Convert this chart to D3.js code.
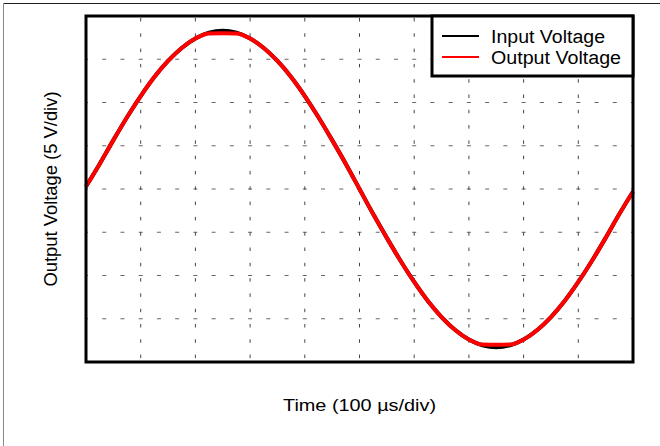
<!DOCTYPE html>
<html>
<head>
<meta charset="utf-8">
<script src="https://cdn.jsdelivr.net/npm/d3@7"></script>
<style>
  html, body { margin: 0; padding: 0; background: #fff; }
  svg { display: block; }
  text { font-family: "Liberation Sans", Arial, Helvetica, sans-serif; fill: #000; }
</style>
</head>
<body>
<svg id="chart" width="660" height="446"></svg>
<script>
// ---- data (time in µs, voltage in V; 100 µs/div, 5 V/div) ----
const timeUs = [0,25,50,75,100,125,150,175,200,225,250,275,300,325,350,375,400,425,450,475,500,
                525,550,575,600,625,650,675,700,725,750,775,800,825,850,875,900,925,950,975,1000];
const inputVoltage = [0.3,2.9,5.65,8.3,10.75,12.95,14.8,16.3,17.4,18.07,18.3,18.07,17.4,16.3,14.8,12.95,10.75,8.3,5.65,2.9,0.0,
                      -2.9,-5.65,-8.3,-10.75,-12.95,-14.8,-16.3,-17.4,-18.07,-18.3,-18.07,-17.4,-16.3,-14.8,-12.95,-10.75,-8.3,-5.65,-2.9,-0.3];
const outputVoltage = [0.3,2.9,5.65,8.3,10.75,12.95,14.8,16.3,17.4,17.98,18.0,17.98,17.4,16.3,14.8,12.95,10.75,8.3,5.65,2.9,0.0,
                       -2.9,-5.65,-8.3,-10.75,-12.95,-14.8,-16.3,-17.4,-17.98,-18.0,-17.98,-17.4,-16.3,-14.8,-12.95,-10.75,-8.3,-5.65,-2.9,-0.3];
const xTicks = [0,100,200,300,400,500,600,700,800,900,1000];
const yTicks = [-20,-15,-10,-5,0,5,10,15,20];
const seriesNames = ["Input Voltage", "Output Voltage"];
const seriesColors = ["#000000", "#ff0000"];
const xLabel = "Time (100 µs/div)";
const yLabel = "Output Voltage (5 V/div)";

const svg = d3.select("#chart");
const plot = { left: 86, top: 16, right: 633, bottom: 362 };

const x = d3.scaleLinear().domain([0, 1000]).range([plot.left, plot.right]);
const y = d3.scaleLinear().domain([-20, 20]).range([plot.bottom, plot.top]);

// outer frame
svg.append("line").attr("x1", 3).attr("x2", 660).attr("y1", 3.5).attr("y2", 3.5)
  .attr("stroke", "#222").attr("stroke-width", 1.2);
svg.append("line").attr("x1", 3.5).attr("x2", 3.5).attr("y1", 3).attr("y2", 446)
  .attr("stroke", "#888").attr("stroke-width", 1);

// grid (dashed)
const divW = x(100) - x(0);
const grid = svg.append("g");
grid.selectAll("line.h").data(yTicks.slice(1, -1)).join("line")
  .attr("class", "h")
  .attr("x1", plot.left).attr("x2", plot.right)
  .attr("y1", d => y(d)).attr("y2", d => y(d))
  .attr("stroke", "#666").attr("stroke-width", 1)
  .attr("stroke-dasharray", `4,${divW / 3 - 4}`)
  .attr("stroke-dashoffset", 2);
grid.selectAll("line.v").data(xTicks.slice(1, -1)).join("line")
  .attr("class", "v")
  .attr("x1", d => x(d)).attr("x2", d => x(d))
  .attr("y1", plot.top).attr("y2", plot.bottom)
  .attr("stroke", "#444").attr("stroke-width", 1)
  .attr("stroke-dasharray", "3.5,11.8")
  .attr("stroke-dashoffset", -2);

// series
const lineGen = d3.line().curve(d3.curveMonotoneX);
const series = [inputVoltage, outputVoltage];
series.forEach((vals, i) => {
  svg.append("path")
    .attr("d", lineGen(timeUs.map((t, k) => [x(t), y(vals[k])])))
    .attr("fill", "none")
    .attr("stroke", seriesColors[i])
    .attr("stroke-width", 4)
    .attr("stroke-linejoin", "round");
});

// plot border
svg.append("rect")
  .attr("x", plot.left).attr("y", plot.top)
  .attr("width", plot.right - plot.left).attr("height", plot.bottom - plot.top)
  .attr("fill", "none").attr("stroke", "#000").attr("stroke-width", 3);

// legend
const lg = svg.append("g");
lg.append("rect").attr("x", 432).attr("y", 16).attr("width", 201).attr("height", 60)
  .attr("fill", "#fff").attr("stroke", "#000").attr("stroke-width", 3);
const legendLengths = [114, 130];
seriesNames.forEach((name, i) => {
  const yy = 36 + i * 21;
  lg.append("line").attr("x1", 442).attr("x2", 479).attr("y1", yy).attr("y2", yy)
    .attr("stroke", seriesColors[i]).attr("stroke-width", 2.2);
  lg.append("text").attr("x", 491).attr("y", yy + 7)
    .attr("font-size", 18)
    .attr("textLength", legendLengths[i]).attr("lengthAdjust", "spacingAndGlyphs")
    .text(name);
});

// axis labels
svg.append("text")
  .attr("x", (plot.left + plot.right) / 2).attr("y", 411)
  .attr("text-anchor", "middle").attr("font-size", 17)
  .attr("textLength", 153).attr("lengthAdjust", "spacingAndGlyphs")
  .text(xLabel);
svg.append("text")
  .attr("transform", `translate(57,${(plot.top + plot.bottom) / 2}) rotate(-90)`)
  .attr("text-anchor", "middle").attr("font-size", 18)
  .attr("textLength", 195).attr("lengthAdjust", "spacingAndGlyphs")
  .text(yLabel);
</script>
</body>
</html>
